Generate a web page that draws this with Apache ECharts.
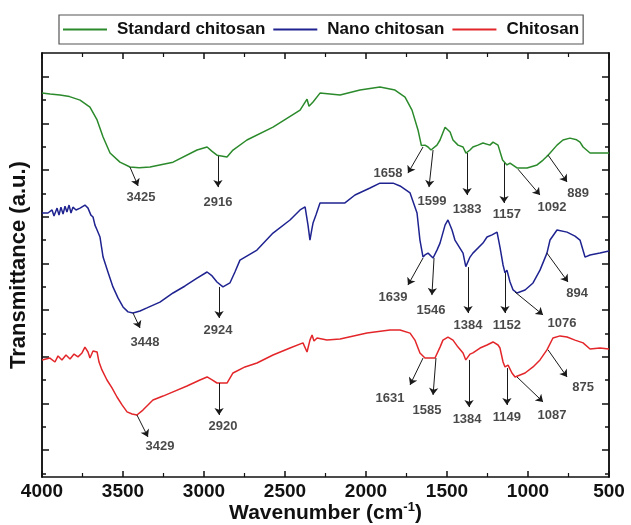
<!DOCTYPE html>
<html>
<head>
<meta charset="utf-8">
<script src="https://cdn.jsdelivr.net/npm/echarts@6/dist/echarts.min.js"></script>
<style>html,body{margin:0;padding:0;background:#fff}#c{width:631px;height:525px}</style>
</head>
<body>
<div id="c"></div>
<script>
// ---- Data (wavenumber cm-1, transmittance a.u.) ----
var seriesNames = ['Standard chitosan', 'Nano chitosan', 'Chitosan'];
var seriesColors = ['#2b8a2b', '#1f2390', '#e3262a'];

var standardChitosan = [[4000,153.0],[3950,152.6],[3889,152.2],[3830,151.5],[3765,150.0],[3704,147.0],[3660,141.5],[3623,134.2],[3580,127.3],[3519,123.4],[3457,121.3],[3400,121.0],[3333,121.3],[3191,123.4],[3043,128.6],[2981,129.9],[2950,128.0],[2920,126.4],[2858,125.6],[2821,128.6],[2735,132.9],[2574,138.4],[2407,145.7],[2364,150.4],[2352,147.4],[2327,149.2],[2284,153.0],[2160,152.2],[2037,154.3],[1914,155.6],[1821,154.3],[1759,151.3],[1716,145.7],[1679,137.2],[1658,130.5],[1636,130.7],[1617,129.9],[1599,128.6],[1562,130.7],[1543,132.9],[1512,138.4],[1481,136.3],[1463,132.9],[1432,130.7],[1401,129.9],[1383,127.3],[1358,128.6],[1340,129.9],[1309,130.7],[1278,131.6],[1235,130.7],[1216,132.0],[1185,130.7],[1157,124.3],[1130,122.2],[1111,123.0],[1068,120.9],[1006,120.9],[944,122.2],[907,124.3],[889,125.5],[876,126.4],[821,130.7],[784,132.9],[741,133.7],[700,133.0],[679,132.0],[660,129.9],[617,127.3],[556,127.3],[500,127.3]];

var nanoChitosan = [[4000,101.6],[3963,101.6],[3938,102.9],[3926,100.3],[3907,103.7],[3895,100.7],[3883,104.1],[3870,101.1],[3858,104.5],[3846,102.0],[3833,105.0],[3821,101.6],[3809,104.1],[3790,102.9],[3765,103.7],[3735,105.0],[3716,103.7],[3698,100.7],[3685,99.9],[3673,96.4],[3660,94.3],[3642,91.3],[3623,82.7],[3593,76.3],[3562,69.9],[3531,65.2],[3500,61.3],[3469,59.2],[3438,58.7],[3395,59.6],[3352,60.9],[3272,63.4],[3191,67.3],[3117,70.3],[3043,73.7],[2981,76.3],[2950,74.6],[2920,72.0],[2883,69.9],[2840,71.6],[2809,76.3],[2778,81.4],[2673,85.7],[2574,93.0],[2469,98.6],[2407,102.9],[2376,104.2],[2358,96.4],[2346,90.0],[2333,95.1],[2327,97.3],[2309,100.7],[2284,105.9],[2160,105.9],[2130,105.9],[2068,109.3],[1975,112.3],[1914,114.4],[1833,114.4],[1790,113.2],[1728,110.2],[1685,101.6],[1667,90.0],[1648,82.7],[1636,83.6],[1617,84.4],[1586,82.3],[1562,85.7],[1543,88.7],[1512,96.4],[1494,98.6],[1469,94.3],[1451,90.0],[1401,84.4],[1384,78.6],[1358,82.7],[1340,84.4],[1278,88.7],[1253,91.3],[1222,92.2],[1191,93.4],[1173,87.0],[1154,79.3],[1142,75.9],[1130,77.1],[1111,72.0],[1092,68.6],[1068,67.3],[1018,68.6],[969,71.6],[926,77.1],[883,84.4],[864,90.0],[821,94.3],[759,93.4],[710,91.7],[679,90.0],[648,82.7],[617,83.6],[556,84.4],[500,85.3]];

var chitosan = [[4000,38.6],[3951,39.4],[3920,37.7],[3901,40.3],[3877,38.6],[3852,40.7],[3827,39.0],[3802,41.1],[3778,39.9],[3753,41.6],[3735,44.1],[3716,42.0],[3704,39.4],[3685,42.4],[3660,42.0],[3648,37.7],[3630,34.3],[3599,30.0],[3568,26.6],[3537,22.7],[3506,19.3],[3475,16.3],[3444,15.4],[3414,15.0],[3377,17.1],[3315,21.4],[3253,23.1],[3191,24.9],[3105,27.4],[3025,30.0],[2981,31.3],[2950,30.0],[2920,28.7],[2858,28.7],[2821,33.0],[2747,35.6],[2673,37.3],[2574,40.7],[2469,43.7],[2389,45.9],[2364,42.0],[2346,47.1],[2333,49.3],[2321,46.7],[2302,48.0],[2241,47.1],[2160,47.6],[1994,50.1],[1852,51.4],[1790,51.4],[1728,50.1],[1698,47.1],[1667,41.6],[1636,39.4],[1605,39.4],[1574,39.4],[1543,44.1],[1525,47.1],[1494,48.4],[1463,47.1],[1432,44.1],[1401,41.6],[1384,38.6],[1358,41.1],[1340,41.6],[1296,43.7],[1253,45.0],[1216,46.3],[1185,45.0],[1173,43.7],[1154,37.7],[1142,35.6],[1123,36.4],[1099,33.0],[1080,31.3],[1018,33.0],[969,35.6],[926,38.6],[883,42.9],[846,48.0],[802,48.9],[759,48.4],[710,47.1],[660,45.9],[617,43.3],[556,43.7],[500,43.3]];

// Peak annotations: [label, arrowStartWn, arrowStartT, arrowEndWn, arrowEndT, labelWn, labelT]
var standardPeaks = [['3425',3457,121.3,3407,113.2,3389,108.4],['2916',2914,126.0,2914,112.7,2914,106.3],['1658',1648,129.9,1741,118.7,1864,118.7],['1599',1586,128.6,1611,112.7,1593,106.7],['1383',1376,127.3,1376,109.3,1376,103.3],['1157',1148,123.0,1148,105.9,1130,101.2],['1092',1062,120.4,926,109.3,852,104.2],['889',876,126.4,759,114.9,691,110.2]];
var nanoPeaks = [['3448',3438,58.7,3395,52.3,3364,45.9],['2924',2907,69.9,2907,56.6,2914,51.4],['1639',1648,82.3,1741,70.7,1833,65.6],['1546',1580,82.3,1593,66.4,1599,60.0],['1384',1370,78.4,1370,58.7,1370,53.6],['1152',1142,75.9,1142,58.7,1130,53.2],['1076',1080,67.7,907,57.9,790,54.4],['894',883,84.4,753,72.0,697,66.9]];
var chitosanPeaks = [['3429',3414,15.0,3346,5.6,3272,1.3],['2920',2907,28.7,2907,15.0,2883,9.9],['1631',1648,39.4,1728,27.9,1852,22.3],['1585',1568,39.4,1586,23.6,1623,17.1],['1384',1364,38.6,1364,18.4,1376,13.3],['1149',1130,35.1,1130,19.3,1130,14.1],['1087',1068,31.3,907,20.6,852,14.6],['875',876,42.9,759,31.3,660,26.6]];

var xMin = 500, xMax = 4000, xInterval = 500;
var yMin = -11.6, yMax = 170.2;
var yMajorTicks = [0, 20, 40, 60, 80, 100, 120, 140, 160];
var yMinorTicks = [-10, 10, 30, 50, 70, 90, 110, 130, 150];

// ---- Chart ----
var allPeaks = standardPeaks.concat(nanoPeaks, chitosanPeaks);
var axisColor = '#111';
var font = 'Liberation Sans, Arial, sans-serif';

function yAx(pos, ticks, len, extra) {
  var a = {
    type: 'value', position: pos, min: yMin, max: yMax,
    axisLine: {show: true, lineStyle: {color: axisColor, width: 1.5}},
    axisTick: {show: true, inside: true, length: len, customValues: ticks, lineStyle: {color: axisColor, width: 1.5}},
    axisLabel: {show: false},
    splitLine: {show: false}
  };
  if (extra) for (var k in extra) a[k] = extra[k];
  return a;
}
function xAx(pos, showLabel, extra) {
  var a = {
    type: 'value', position: pos, min: xMin, max: xMax, interval: xInterval, inverse: true,
    axisLine: {show: true, onZero: false, lineStyle: {color: axisColor, width: 1.5}},
    axisTick: {show: true, inside: true, length: 6, lineStyle: {color: axisColor, width: 1.5}},
    minorTick: {show: true, splitNumber: 2, length: 4, lineStyle: {color: axisColor, width: 1.2}},
    axisLabel: {show: showLabel, color: '#111', fontFamily: font, fontWeight: 'bold', fontSize: 19, margin: 5,
                formatter: function (v) { return String(v); }},
    splitLine: {show: false}, minorSplitLine: {show: false}
  };
  if (extra) for (var k in extra) a[k] = extra[k];
  return a;
}

var series = [];
[standardChitosan, nanoChitosan, chitosan].forEach(function (d, i) {
  series.push({
    name: seriesNames[i], type: 'line', data: d, symbol: 'none', showSymbol: false,
    lineStyle: {color: seriesColors[i], width: 1.5}, itemStyle: {color: seriesColors[i]},
    z: 3, silent: true, animation: false
  });
});
series.push({
  name: 'arrows', type: 'lines', coordinateSystem: 'cartesian2d', z: 4,
  symbol: ['none', 'arrow'], symbolSize: 7,
  lineStyle: {color: '#1a1a1a', width: 1, opacity: 1, curveness: 0},
  data: allPeaks.map(function (p) { return {coords: [[p[1], p[2]], [p[3], p[4]]]}; }),
  animation: false, silent: true
});
series.push({
  name: 'peakLabels', type: 'scatter', symbol: 'circle', symbolSize: 1, itemStyle: {color: 'rgba(0,0,0,0)'}, z: 5,
  data: allPeaks.map(function (p) { return [p[5], p[6], p[0]]; }),
  label: {show: true, position: 'inside', formatter: function (o) { return o.value[2]; },
          color: '#1a1a1a', fontFamily: font, fontWeight: 'bold', fontSize: 13},
  labelLayout: {hideOverlap: false},
  animation: false, silent: true
});

var chart = echarts.init(document.getElementById('c'), null, {renderer: 'canvas'});
chart.setOption({
  animation: false,
  backgroundColor: '#fff',
  grid: {left: 42, right: 22, top: 53, bottom: 48, containLabel: false, outerBoundsMode: 'none'},
  legend: {
    data: seriesNames, left: 59, top: 15, orient: 'horizontal', icon: 'rect',
    itemWidth: 44, itemHeight: 2, itemGap: 8,
    padding: [6, 4, 6, 4], borderColor: '#555', borderWidth: 1.2,
    textStyle: {color: '#111', fontFamily: font, fontWeight: 'bold', fontSize: 17, padding: [0, 0, 0, 5]}
  },
  xAxis: [
    xAx('bottom', true, {name: 'Wavenumber (cm{sup|-1})', nameLocation: 'middle', nameGap: 24, nameMoveOverlap: false,
      nameTextStyle: {color: '#111', fontFamily: font, fontWeight: 'bold', fontSize: 21,
        rich: {sup: {fontFamily: font, fontWeight: 'bold', fontSize: 13, color: '#111', padding: [0, 0, 11, 0]}}}}),
    xAx('top', false)
  ],
  yAxis: [
    yAx('left', yMajorTicks, 7, {name: 'Transmittance (a.u.)', nameLocation: 'middle', nameGap: 12, nameMoveOverlap: false,
      nameTextStyle: {color: '#111', fontFamily: font, fontWeight: 'bold', fontSize: 22}}),
    yAx('left', yMinorTicks, 4),
    yAx('right', yMajorTicks, 7),
    yAx('right', yMinorTicks, 4)
  ],
  series: series
});
</script>
</body>
</html>
